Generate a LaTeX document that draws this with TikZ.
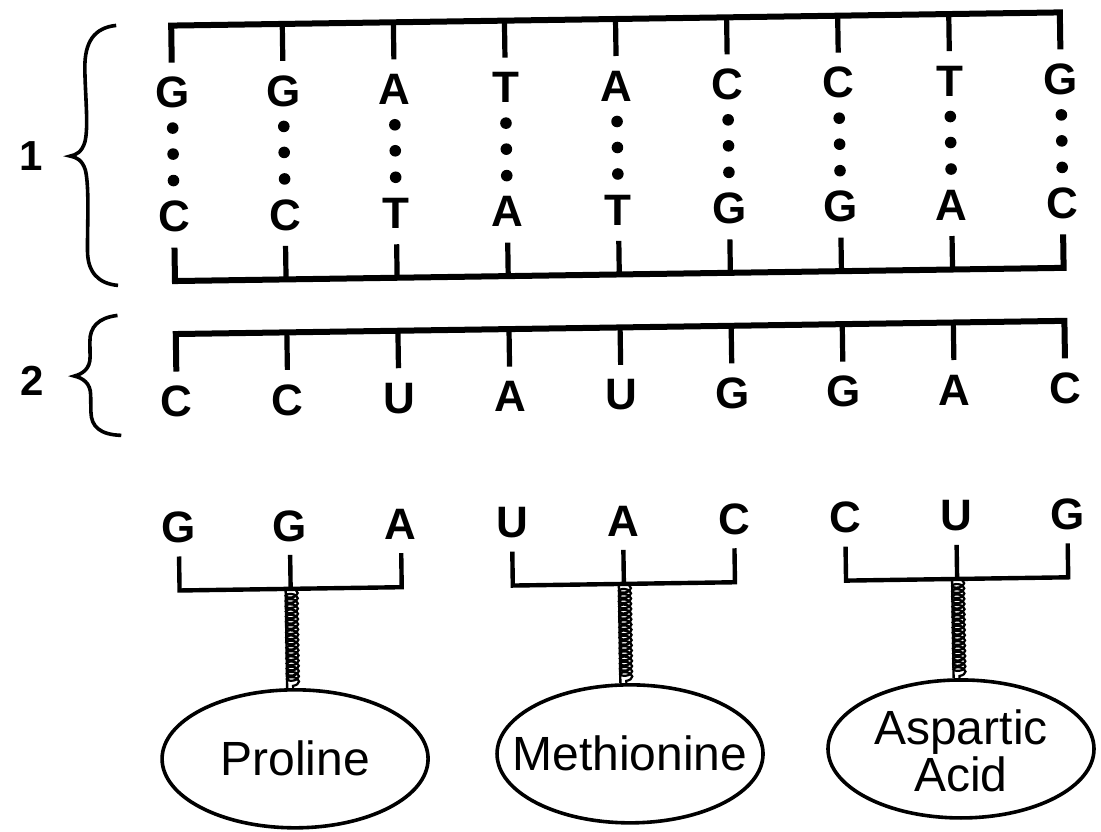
\documentclass[tikz,border=0pt]{standalone}
\usepackage{fontspec}
\setmainfont{Liberation Sans}
\usetikzlibrary{shapes.geometric,decorations.pathmorphing}
\begin{document}
\begin{tikzpicture}[x=0.5pt,y=-0.5pt,
  base/.style={font=\fontsize{22}{24}\selectfont\bfseries, inner sep=0pt, anchor=center},
  numlabel/.style={font=\fontsize{21}{23}\selectfont\bfseries, inner sep=0pt},
  backbone/.style={line width=3pt, line join=miter},
  tickline/.style={line width=2.6pt},
  bracket/.style={line width=2.2pt, line join=miter},
  amino/.style={ellipse, draw, line width=1.8pt, minimum width=133pt, minimum height=69pt, inner sep=0pt},
  aminotext/.style={font=\fontsize{24}{23.5}\selectfont, align=center, inner sep=0pt},
  coilink/.style={decorate, decoration={coil, amplitude=3pt, segment length=2.6pt}, line width=1.1pt},
  stem/.style={line width=1.2pt},
  bracestyle/.style={line width=1.8pt},
]
\useasboundingbox (0,0) rectangle (1101,831);
\begin{scope}[rotate around={0.85:(550,415)}]
% ---------- DNA ----------
\foreach \t [count=\i from 0] in {G,G,A,T,A,C,C,T,G} {
  \pgfmathsetmacro\xx{177+111.1*\i}
  \node[base] (dt\i) at (\xx,87) {\t};
  \coordinate (bt\i) at (\xx,20);
  \coordinate (et\i) at (\xx,57);
  \fill (\xx,122.5) circle (5.8);
  \fill (\xx,148.5) circle (5.8);
  \fill (\xx,175) circle (5.8);
}
\foreach \t [count=\i from 0] in {C,C,T,A,T,G,G,A,C} {
  \pgfmathsetmacro\xx{177+111.1*\i}
  \node[base] (db\i) at (\xx,211) {\t};
  \coordinate (bb\i) at (\xx,275.5);
  \coordinate (eb\i) at (\xx,242);
}
\draw[backbone] (et0) -- (bt0) -- (bt8) -- (et8);
\draw[backbone] (eb0) -- (bb0) -- (bb8) -- (eb8);
\foreach \i in {1,...,7} {
  \draw[tickline] (bt\i) -- (et\i);
  \draw[tickline] (bb\i) -- (eb\i);
}
% ---------- mRNA ----------
\foreach \t [count=\i from 0] in {C,C,U,A,U,G,G,A,C} {
  \pgfmathsetmacro\xx{177+111.1*\i}
  \node[base] (m\i) at (\xx,396) {\t};
  \coordinate (bm\i) at (\xx,328.5);
  \coordinate (em\i) at (\xx,366);
}
\draw[backbone] (em0) -- (bm0) -- (bm8) -- (em8);
\foreach \i in {1,...,7} \draw[tickline] (bm\i) -- (em\i);
% ---------- tRNA ----------
\foreach \t [count=\i from 0] in {G,G,A,U,A,C,C,U,G} {
  \pgfmathsetmacro\xx{177+111.1*\i}
  \node[base] (tr\i) at (\xx,522) {\t};
  \coordinate (ta\i) at (\xx,551);
  \coordinate (tb\i) at (\xx,585);
}
\foreach \a/\m/\b in {0/1/2,3/4/5,6/7/8} {
  \draw[bracket] (ta\a) -- (tb\a) -- (tb\b) -- (ta\b);
  \draw[bracket] (ta\m) -- (tb\m);
}
\node[amino] (pro) at (290,755) {};
\node[amino] (met) at (625,755) {};
\node[amino] (asp) at (956,755) {};
\node[aminotext] (protxt) at (pro) {Proline};
\node[aminotext] (mettxt) at (met) {Methionine};
\node[aminotext] (asptxt) at ([yshift=-1pt]asp) {Aspartic\\Acid};
\foreach \m/\n in {1/pro,4/met,7/asp} {
  \draw[stem] ([xshift=-2.5pt]tb\m) -- ([xshift=-2.5pt]tb\m |- \n.north);
  \draw[coilink] ([xshift=0.5pt]tb\m) -- ([xshift=0.5pt]tb\m |- \n.north);
}
% ---------- braces ----------
\draw[bracestyle] (122,19) .. controls (100,21) and (90,35) .. (90,62)
  .. controls (90,90) and (93,120) .. (89,135)
  .. controls (86,145) and (80,148) .. (74,149)
  .. controls (80,150) and (86,153) .. (89,163)
  .. controls (93,180) and (90,220) .. (90,245)
  .. controls (90,265) and (100,277) .. (120,279);
\draw[bracestyle] (119,309) .. controls (100,311) and (91,320) .. (91,335)
  -- (91,350) .. controls (91,362) and (83,367) .. (75,369)
  .. controls (83,371) and (91,376) .. (91,388)
  -- (91,405) .. controls (91,420) and (100,428) .. (121,429);
\node[numlabel] (lab1) at (35,148) {1};
\node[numlabel] (lab2) at (33,373) {2};
\end{scope}
\end{tikzpicture}
\end{document}
